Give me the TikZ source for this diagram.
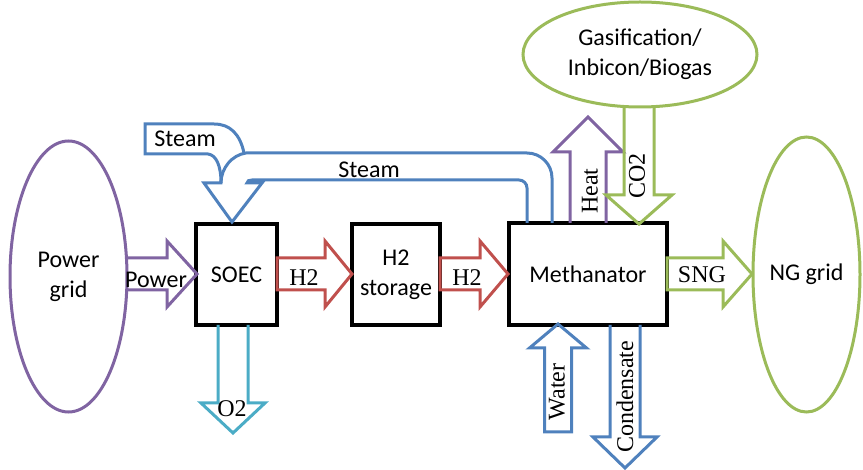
\documentclass[tikz,border=0pt]{standalone}
\usepackage{fontspec}
\setmainfont{Liberation Serif}
\newfontfamily\calfont{Carlito}
\usetikzlibrary{shapes.geometric}
\definecolor{cpurple}{HTML}{8064A2}
\definecolor{cred}{HTML}{C0504D}
\definecolor{cgreen}{HTML}{9BBB59}
\definecolor{cblue}{HTML}{4F81BD}
\definecolor{ccyan}{HTML}{4BACC6}
% horizontal block arrow: style, x0, xhead, xtip, yc, closing
\newcommand\blockH[6]{\draw[#1] (#2,#5+16) -- (#2,#5+16) -- (#3,#5+16) -- (#3,#5+33) -- (#4,#5) -- (#3,#5-33) -- (#3,#5-16) -- (#2,#5-16) #6;}
% vertical block arrow: style, xc, y0, yhead, ytip, half shaft, half head, closing
\newcommand\blockV[8]{\draw[#1] (#2-#6,#3) -- (#2-#6,#4) -- (#2-#7,#4) -- (#2,#5) -- (#2+#7,#4) -- (#2+#6,#4) -- (#2+#6,#3) #8;}
\begin{document}
\begin{tikzpicture}[x=1pt,y=-1pt,
  sanslbl/.style={font=\calfont\fontsize{24}{30}\selectfont, align=center, inner sep=0pt},
  serlbl/.style={font=\fontsize{24}{28}\selectfont, inner sep=0pt},
  procbox/.style={draw=black, line width=4pt, inner sep=0pt, sanslbl},
  grid/.style={draw, ellipse, line width=3pt, inner sep=0pt, sanslbl},
  barrow/.style={line width=3pt, miter limit=10},
  steamline/.style={draw=cblue, line width=3pt}]
\useasboundingbox (0,0) rectangle (863,470);
% sources / sinks
\node[grid, draw=cpurple, minimum width=117pt, minimum height=271pt] (pg) at (68.5,276.5) {Power\\grid};
\node[grid, draw=cgreen, minimum width=107pt, minimum height=275pt] (ng) at (806.5,274.5) {NG grid};
\node[grid, draw=cgreen, minimum width=234pt, minimum height=105pt] (gas) at (640,54.5) {Gasification/\\Inbicon/Biogas};
% process boxes
\node[procbox, minimum width=81pt, minimum height=101pt] (soec) at (236.5,274.5) {SOEC};
\node[procbox, minimum width=88pt, minimum height=101pt] (h2s) at (396,274.5) {H2\\storage};
\node[procbox, minimum width=158pt, minimum height=102pt] (meth) at (588,274) {Methanator};
% horizontal arrows
\blockH{barrow,draw=cpurple}{127}{167}{197}{274}{}
\blockH{barrow,draw=cred}{277}{325}{352}{274}{-- cycle}
\blockH{barrow,draw=cred}{440}{480}{508}{274}{-- cycle}
\blockH{barrow,draw=cgreen}{667}{723}{752}{274}{-- cycle}
% vertical arrows
\blockV{barrow,draw=cpurple}{588}{223}{152}{117}{18}{35}{}
\blockV{barrow,draw=cgreen}{639}{107}{195}{224}{15}{33}{}
\blockV{barrow,draw=cblue}{558}{432}{348}{324}{13.5}{28.5}{-- cycle}
\blockV{barrow,draw=cblue}{625}{325}{437}{468}{15}{32}{}
\blockV{barrow,draw=ccyan}{233}{325}{403}{433}{15}{32}{}
% steam arrows
\draw[steamline] (527,223) -- (527,188) .. controls (527,183.6) and (523.4,180) .. (519,180) -- (252,180) .. controls (249,180) and (247,181) .. (247,183) -- (262,183) -- (232,222) -- (204,183) -- (221,183) .. controls (221,168) and (232,155) .. (246,153) -- (527,153) .. controls (540.8,153) and (552,164.2) .. (552,178) -- (552,223);
\draw[steamline] (244,153) .. controls (240,134) and (230,124) .. (214,124) -- (145,124) -- (145,154) -- (208,154) .. controls (216,155) and (221,165) .. (221,183);
% labels
\node[sanslbl] (lpow) at (156,280) {Power};
\node[serlbl] (lh2a) at (304,278) {H2};
\node[serlbl] (lh2b) at (467,278) {H2};
\node[serlbl] (lsng) at (702,275) {SNG};
\node[serlbl] (lo2) at (232,409) {O2};
\node[serlbl, rotate=90] (lheat) at (590,191) {Heat};
\node[serlbl, rotate=90] (lco2) at (637,176) {CO2};
\node[serlbl, rotate=90] (lwater) at (557,392) {Water};
\node[serlbl, rotate=90] (lcond) at (625,397) {Condensate};
\node[sanslbl] (lsteam1) at (185,139) {Steam};
\node[sanslbl] (lsteam2) at (369,170) {Steam};
\end{tikzpicture}
\end{document}
